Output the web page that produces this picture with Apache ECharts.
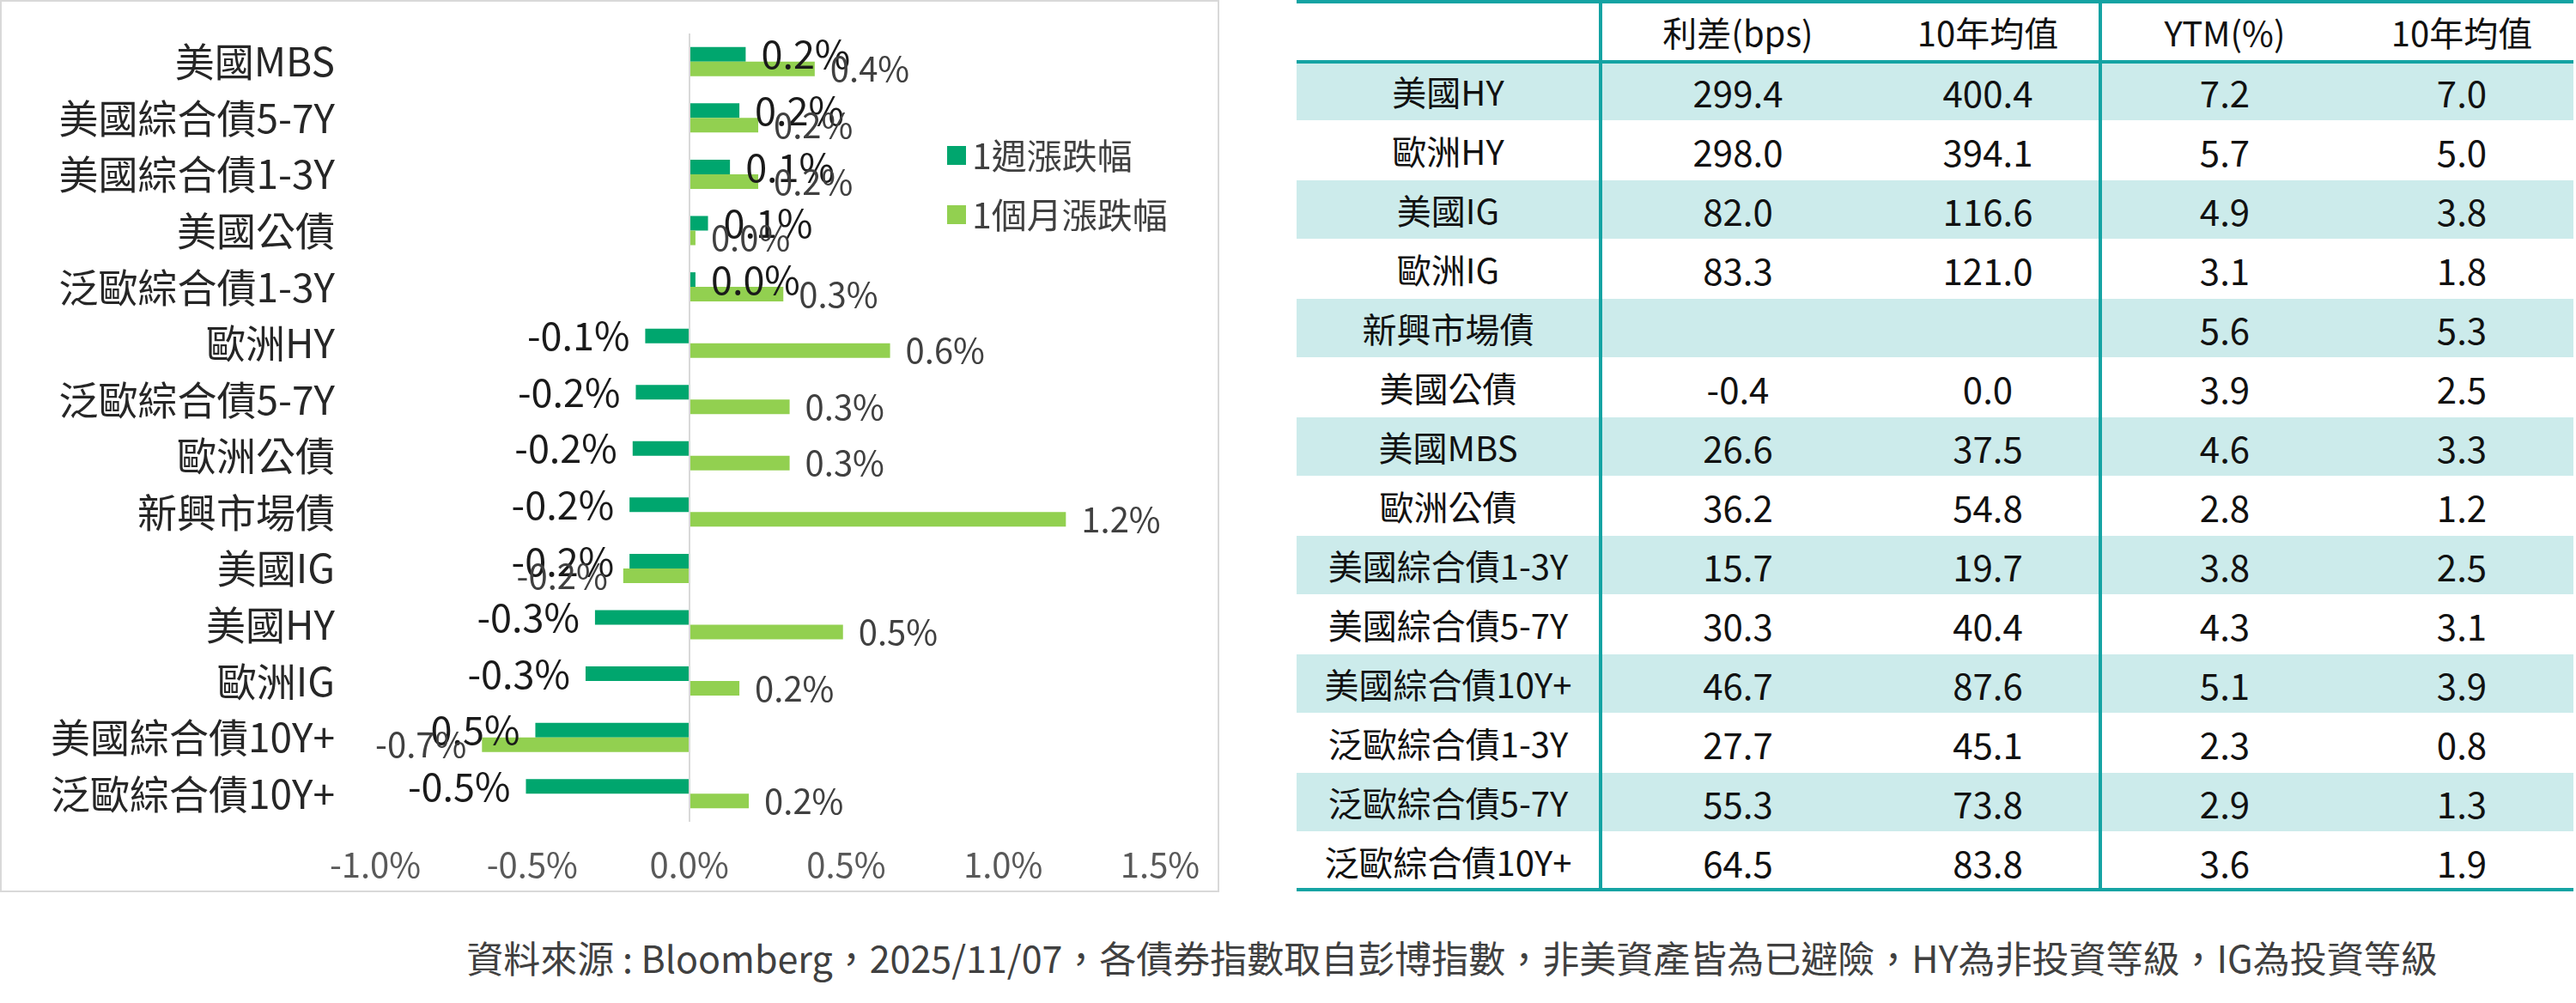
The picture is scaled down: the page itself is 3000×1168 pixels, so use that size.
<!DOCTYPE html>
<html>
<head>
<meta charset="utf-8">
<script src="https://cdn.jsdelivr.net/npm/echarts@6/dist/echarts.min.js"></script>
<style>
  html, body { margin: 0; padding: 0; background: #fff; width: 3000px; height: 1168px; overflow: hidden; }
  body { font-family: "Noto Sans CJK TC", "Noto Sans", sans-serif; position: relative; }
  #chart { position: absolute; left: 0; top: 0; width: 1421px; height: 1041px; }
  #tbl { position: absolute; left: 1510px; top: 0; width: 1487px; height: 1041px; }
  #tbl .row { position: absolute; left: 0; width: 1487px; }
  #tbl .row.stripe { background: #CCEBEB; }
  #tbl .cell { position: absolute; top: 0; height: 100%; display: flex; align-items: center; justify-content: center; font-size: 40px; color: #111; white-space: nowrap; }
  #tbl .num { font-size: 42px; }
  #tbl .hline { position: absolute; left: 0; width: 1487px; background: #14A3A3; }
  #tbl .vline { position: absolute; width: 4px; background: #14A3A3; }
  #foot { position: absolute; left: 0; width: 3382px; top: 1084px; text-align: center; font-size: 43px; color: #404040; white-space: nowrap; line-height: 60px; }
</style>
</head>
<body>
<div id="chart"></div>
<div id="tbl"></div>
<div id="foot"></div>
<script>
// ---- Chart data ----
const categories = ['美國MBS', '美國綜合債5-7Y', '美國綜合債1-3Y', '美國公債', '泛歐綜合債1-3Y', '歐洲HY', '泛歐綜合債5-7Y', '歐洲公債', '新興市場債', '美國IG', '美國HY', '歐洲IG', '美國綜合債10Y+', '泛歐綜合債10Y+'];
const weekChange = [0.18, 0.16, 0.13, 0.06, 0.02, -0.14, -0.17, -0.18, -0.19, -0.19, -0.30, -0.33, -0.49, -0.52];
const monthChange = [0.40, 0.22, 0.22, 0.02, 0.30, 0.64, 0.32, 0.32, 1.20, -0.21, 0.49, 0.16, -0.66, 0.19];
const seriesNames = ['1週漲跌幅', '1個月漲跌幅'];
const xTickMin = -1.0, xTickMax = 1.5, xTickStep = 0.5;

// ---- Table data ----
const tableHeader = ['', '利差(bps)', '10年均值', 'YTM(%)', '10年均值'];
const tableNames = ['美國HY', '歐洲HY', '美國IG', '歐洲IG', '新興市場債', '美國公債', '美國MBS', '歐洲公債', '美國綜合債1-3Y', '美國綜合債5-7Y', '美國綜合債10Y+', '泛歐綜合債1-3Y', '泛歐綜合債5-7Y', '泛歐綜合債10Y+'];
const spreadBps = ['299.4', '298.0', '82.0', '83.3', '', '-0.4', '26.6', '36.2', '15.7', '30.3', '46.7', '27.7', '55.3', '64.5'];
const spreadAvg10y = ['400.4', '394.1', '116.6', '121.0', '', '0.0', '37.5', '54.8', '19.7', '40.4', '87.6', '45.1', '73.8', '83.8'];
const ytm = ['7.2', '5.7', '4.9', '3.1', '5.6', '3.9', '4.6', '2.8', '3.8', '4.3', '5.1', '2.3', '2.9', '3.6'];
const ytmAvg10y = ['7.0', '5.0', '3.8', '1.8', '5.3', '2.5', '3.3', '1.2', '2.5', '3.1', '3.9', '0.8', '1.3', '1.9'];

const footnote = '資料來源 : Bloomberg，2025/11/07，各債券指數取自彭博指數，非美資產皆為已避險，HY為非投資等級，IG為投資等級';

// ---- Build table ----
(function buildTable() {
  const colEdges = [0, 353, 675, 935, 1227, 1487];
  const headerTop = 2, headerBottom = 72, rowH = 69.0;
  const tbl = document.getElementById('tbl');
  let html = '';
  function rowHtml(cells, top, h, cls, isHeader) {
    let s = '<div class="row ' + cls + '" style="top:' + top + 'px;height:' + h + 'px">';
    cells.forEach((c, i) => {
      const numCls = (!isHeader && i > 0) ? ' num' : '';
      s += '<div class="cell' + numCls + '" style="left:' + colEdges[i] + 'px;width:' + (colEdges[i + 1] - colEdges[i]) + 'px">' + c + '</div>';
    });
    return s + '</div>';
  }
  html += rowHtml(tableHeader, headerTop, headerBottom - headerTop, '', true);
  for (let r = 0; r < tableNames.length; r++) {
    const top = headerBottom + r * rowH;
    html += rowHtml([tableNames[r], spreadBps[r], spreadAvg10y[r], ytm[r], ytmAvg10y[r]], top, rowH - 1, r % 2 === 0 ? 'stripe' : '', false);
  }
  const bottom = headerBottom + tableNames.length * rowH;
  html += '<div class="hline" style="top:0px;height:4px"></div>';
  html += '<div class="hline" style="top:' + (headerBottom - 2) + 'px;height:4px"></div>';
  html += '<div class="hline" style="top:' + (bottom - 4) + 'px;height:4px"></div>';
  html += '<div class="vline" style="left:' + (colEdges[1] - 1) + 'px;top:0;height:' + bottom + 'px"></div>';
  html += '<div class="vline" style="left:' + (colEdges[3] - 1) + 'px;top:0;height:' + bottom + 'px"></div>';
  tbl.innerHTML = html;
  document.getElementById('foot').textContent = footnote;
})();

// ---- Chart ----
const FONT = '"Noto Sans CJK TC", "Noto Sans", sans-serif';
const fmt = v => v.toFixed(1) + '%';
function withLabelPos(arr) {
  return arr.map(v => ({ value: v, label: { position: v < 0 ? 'left' : 'right' } }));
}
const chart = echarts.init(document.getElementById('chart'), null, { renderer: 'canvas' });
chart.setOption({
  backgroundColor: '#fff',
  animation: false,
  textStyle: { fontFamily: FONT },
  graphic: [{
    type: 'rect', silent: true, z: -1,
    shape: { x: 1, y: 1, width: 1418, height: 1037 },
    style: { fill: 'none', stroke: '#D9D9D9', lineWidth: 2 }
  }],
  legend: {
    orient: 'vertical', left: 1098, top: 154,
    itemWidth: 22, itemHeight: 22, itemGap: 25, icon: 'rect',
    textStyle: { fontSize: 41, color: '#404040', fontFamily: FONT, lineHeight: 44, padding: [0, 0, 0, 2] },
    data: seriesNames
  },
  grid: { left: 437, right: 70, top: 39, bottom: 84, containLabel: false },
  xAxis: {
    type: 'value', min: xTickMin, max: xTickMax, interval: xTickStep,
    axisLine: { show: false }, axisTick: { show: false }, splitLine: { show: false },
    axisLabel: { formatter: v => v.toFixed(1) + '%', fontSize: 40, color: '#595959', margin: 30, fontFamily: FONT }
  },
  yAxis: {
    type: 'category', inverse: true, data: categories,
    axisLine: { show: false, onZero: false }, axisTick: { show: false },
    axisLabel: { fontSize: 46, color: '#262626', margin: 47, fontFamily: FONT }
  },
  series: [
    {
      name: seriesNames[0], type: 'bar', barWidth: 17, barGap: '0%',
      itemStyle: { color: '#00A66E' },
      label: { show: true, formatter: p => fmt(p.value), fontSize: 45, color: '#1A1A1A', distance: 18, fontFamily: FONT },
      data: withLabelPos(weekChange),
      markLine: {
        silent: true, symbol: 'none', label: { show: false },
        lineStyle: { color: '#D9D9D9', width: 2, type: 'solid' },
        data: [{ xAxis: 0 }]
      }
    },
    {
      name: seriesNames[1], type: 'bar', barWidth: 17, barGap: '0%',
      itemStyle: { color: '#92D050' },
      label: { show: true, formatter: p => fmt(p.value), fontSize: 40, color: '#404040', distance: 18, fontFamily: FONT },
      data: withLabelPos(monthChange)
    }
  ]
});
</script>
</body>
</html>
